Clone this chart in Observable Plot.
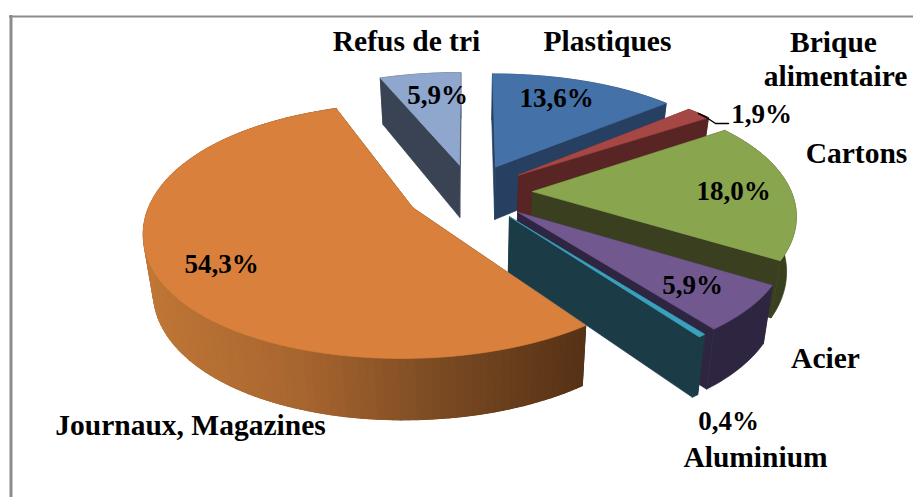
<!DOCTYPE html>
<html><head><meta charset="utf-8">
<script src="https://cdn.jsdelivr.net/npm/d3@7"></script>
<script src="https://cdn.jsdelivr.net/npm/@observablehq/plot@0.6"></script>
<style>html,body{margin:0;padding:0;background:#fff;overflow:hidden}svg{display:block}</style>
</head><body><div id="chart"></div>
<script>
// Data, clockwise from twelve o'clock
const categories = ["Plastiques","Brique alimentaire","Cartons","Acier","Aluminium","Journaux, Magazines","Refus de tri"];
const shares = [13.6,1.9,18.0,5.9,0.4,54.3,5.9];
const topColors = ["#4471a7","#a54845","#89a54e","#71588f","#3aa0bb","#d9813c","#8fa6cd"];
const wallColors = ["#274061","#582424","#3a401f","#2e2540","#1b3b47","#5a3316","#3a4353"];
const explodes = [0.24,0.24,0.24,0.24,0.24,0.25,0.24];
const drawOrder = [6,0,1,2,3,4,5];

// 3D-pie view
const W = 913, H = 497, cx = 470, cy = 192;
const depthScale = d3.scaleLinear().domain([-1.24,-0.87,0,0.5,1.12]).range([97,102,122,136,148]);
const sx = (X,Y) => cx + X*(259+41*Y+8*Y*Y);
const sy = (Y) => cy + Y*depthScale(Y);
const project = (X,Y,low=false) => low
  ? [cx + (sx(X,Y)-cx)*0.97, sy(Y) + 54 + 6.5*Y]
  : [sx(X,Y), sy(Y)];

const total = d3.sum(shares);
let acc = 0;
const slices = shares.map((v,i)=>{
  const a0 = acc/total*2*Math.PI; acc += v;
  const a1 = acc/total*2*Math.PI;
  const m = (a0+a1)/2;
  return {i,a0,a1,ox:explodes[i]*Math.sin(m),oy:-explodes[i]*Math.cos(m)};
});
const rimPt = (s,a) => [s.ox+Math.sin(a), s.oy-Math.cos(a)];
const poly = (pts,color,sw=0.7) => Plot.line([...pts,pts[0]].map(([x,y])=>({x,y})),{x:"x",y:"y",fill:color,stroke:color,strokeWidth:sw,strokeLinejoin:"round"});
const journauxWall = d3.scaleLinear().domain([142,300,440,583]).range(["#c07736","#a7652f","#7a4a22","#563216"]);

const pieMarks = [];
for (const i of drawOrder) {
  const s = slices[i];
  const apex = [s.ox,s.oy];
  const steps = Math.max(2,Math.ceil((s.a1-s.a0)/(Math.PI/120)));
  const rim = d3.range(steps+1).map(k=>rimPt(s,s.a0+(s.a1-s.a0)*k/steps));
  // radial cut faces
  for (const e of [rim[0],rim[steps]]) {
    pieMarks.push(poly([project(...apex),project(...e),project(...e,true),project(...apex,true)],wallColors[i]));
  }
  // outer wall
  const rev = rim.slice().reverse();
  pieMarks.push(poly([...rim.map(p=>project(...p)),...rev.map(p=>project(...p,true))],wallColors[i]));
  if (i===5) {
    for (let k=0;k<steps;k++){
      const q=[project(...rim[k]),project(...rim[k+1]),project(...rim[k+1],true),project(...rim[k],true)];
      pieMarks.push(poly(q,journauxWall((q[0][0]+q[1][0])/2),1.3));
    }
  }
  // top
  pieMarks.push(poly([project(...apex),...rim.map(p=>project(...p))],topColors[i]));
}

// Label layout (pixel positions of the annotations)
const pct = v => v.toFixed(1).replace(".",",")+"%";
const pctAt = [[556,98],[761,114],[733,191],[692,285],[728,421],[221,264],[437,95]];
const nameLabels = [
  {t:"Refus de tri",x:406,y:41},{t:"Plastiques",x:607,y:41},{t:"Brique",x:833,y:42},{t:"alimentaire",x:835,y:76},
  {t:"Cartons",x:856,y:153},{t:"Acier",x:825,y:358},{t:"Aluminium",x:755,y:457},{t:"Journaux, Magazines",x:190,y:425}
];
const pctLabels = shares.map((v,i)=>({t:pct(v),x:pctAt[i][0],y:pctAt[i][1]}));
const leader = [{x:698,y:113},{x:706,y:117},{x:715,y:123},{x:728,y:123}];
const textOpts = {x:"x",y:"y",text:"t",fontFamily:"Liberation Serif",fontWeight:"bold",fill:"#000",textAnchor:"middle",lineAnchor:"middle"};

const chart = Plot.plot({
  width:W,height:H,margin:0,
  x:{domain:[0,W],range:[0,W],axis:null},
  y:{domain:[0,H],range:[0,H],axis:null},
  style:{background:"#fff"},
  marks:[
    Plot.ruleY([16],{x1:9,x2:W,stroke:"#8c8c8c",strokeWidth:2}),
    Plot.ruleX([10.5],{y1:15,y2:H,stroke:"#8c8c8c",strokeWidth:3}),
    ...pieMarks,
    Plot.line(leader,{x:"x",y:"y",stroke:"#000",strokeWidth:1.5,curve:"linear"}),
    Plot.text(nameLabels,{...textOpts,fontSize:29.5}),
    Plot.text(pctLabels,{...textOpts,fontSize:27})
  ]
});
document.getElementById("chart").append(chart);
</script></body></html>
